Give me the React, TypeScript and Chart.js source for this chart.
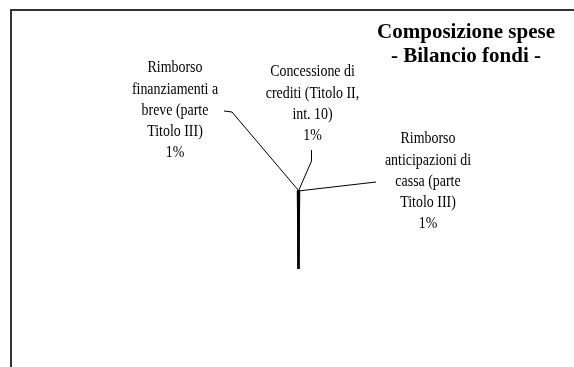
import React, { useEffect, useRef } from "react";
import { Chart, registerables } from "chart.js";

Chart.register(...registerables);

const titleLines = ["Composizione spese", "- Bilancio fondi -"];

const categories: string[][] = [
  ["Rimborso", "anticipazioni di", "cassa (parte", "Titolo III)"],
  ["Concessione di", "crediti (Titolo II,", "int. 10)"],
  ["Rimborso", "finanziamenti a", "breve (parte", "Titolo III)"],
  ["Altre spese"],
];

const values = [0.1, 0.1, 0.1, 99.7];

const percentLabels = ["1%", "1%", "1%", ""];

// label layout (offsets from the slice's outer edge point), by slice index
const labelLayout: Record<number, { path: number[][]; tx: number; ty: number }> = {
  0: { path: [[0, 0], [78, -9]], tx: 130, ty: -52 },
  1: { path: [[0, 0], [13, -30], [13, -41]], tx: 14, ty: -119 },
  2: { path: [[0, 0], [-67, -79], [-75, -80]], tx: -124, ty: -123 },
};

const framePlugin = {
  id: "frame",
  beforeDraw(chart: any) {
    const ctx = chart.ctx;
    ctx.save();
    ctx.strokeStyle = "#333333";
    ctx.lineWidth = 2;
    ctx.strokeRect(11, 10, 700, 500);
    ctx.restore();
  },
};

const labelsPlugin = {
  id: "pieLabels",
  afterDatasetsDraw(chart: any) {
    const ctx = chart.ctx;
    const meta = chart.getDatasetMeta(0);
    ctx.save();
    // title
    ctx.fillStyle = "#000";
    ctx.textAlign = "center";
    ctx.textBaseline = "middle";
    ctx.font = 'bold 21px "Liberation Serif"';
    titleLines.forEach((t, i) => ctx.fillText(t, 466, 33 + i * 24));
    ctx.font = '16px "Liberation Serif"';
    meta.data.forEach((arc: any, i: number) => {
      const lay = labelLayout[i];
      if (!lay) return;
      const p = arc.getProps(["x", "y", "startAngle", "endAngle", "outerRadius"], true);
      const mid = (p.startAngle + p.endAngle) / 2;
      const ax = p.x + Math.cos(mid) * p.outerRadius;
      const ay = p.y + Math.sin(mid) * p.outerRadius;
      ctx.strokeStyle = "#000";
      ctx.lineWidth = 1;
      ctx.beginPath();
      lay.path.forEach((pt, k) => {
        const X = ax + pt[0];
        const Y = ay + pt[1];
        if (k === 0) ctx.moveTo(X, Y);
        else ctx.lineTo(X, Y);
      });
      ctx.stroke();
      const lines = [...categories[i], percentLabels[i]];
      lines.forEach((ln, k) => {
        ctx.save();
        ctx.translate(ax + lay.tx, ay + lay.ty + k * 21.3);
        ctx.scale(0.87, 1);
        ctx.fillText(ln, 0, 0);
        ctx.restore();
      });
    });
    ctx.restore();
  },
};

export default function App() {
  const ref = useRef<HTMLCanvasElement>(null);
  useEffect(() => {
    if (!ref.current) return;
    const small = values.slice(0, 3).reduce((a, b) => a + b, 0);
    const total = values.reduce((a, b) => a + b, 0);
    const chart = new Chart(ref.current, {
      type: "pie",
      data: {
        labels: categories.map((c) => c.join(" ")),
        datasets: [
          {
            data: values,
            backgroundColor: ["#000", "#000", "#000", "rgba(255,255,255,0)"],
            borderColor: ["#000", "#000", "#000", "rgba(255,255,255,0)"],
            borderWidth: [2, 2, 2, 0],
          },
        ],
      },
      options: {
        responsive: false,
        animation: false,
        rotation: -((small / total) * 360) / 2,
        layout: { padding: { left: 219.5, right: 196.5, top: 189, bottom: 18 } },
        plugins: {
          legend: { display: false },
          tooltip: { enabled: false },
          title: { display: false },
        },
      },
      plugins: [framePlugin, labelsPlugin],
    });
    return () => chart.destroy();
  }, []);
  return (
    <div style={{ position: "fixed", left: 0, top: 0, width: 574, height: 367, background: "#fff" }}>
      <canvas ref={ref} width={574} height={367} style={{ display: "block" }} />
    </div>
  );
}
